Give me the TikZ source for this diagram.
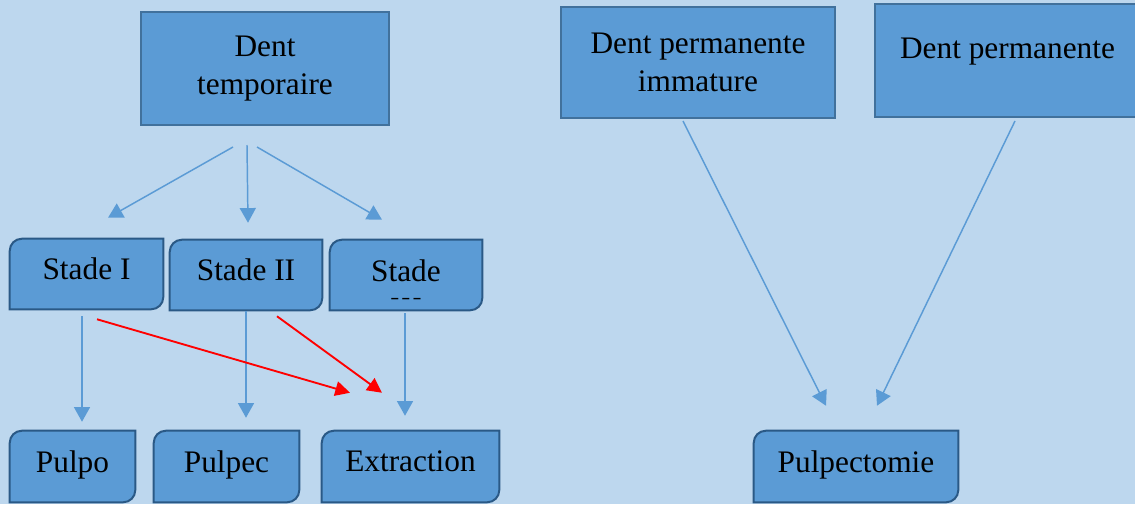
\documentclass[tikz,border=0pt]{standalone}
\usepackage{fontspec}
\setmainfont{Liberation Serif}
\usetikzlibrary{calc,arrows.meta,backgrounds}
\definecolor{pagebg}{HTML}{BDD7EE}
\definecolor{boxfill}{HTML}{5B9BD5}
\definecolor{rectedge}{HTML}{41719C}
\definecolor{roundedge}{HTML}{2A5986}
\definecolor{arrblue}{HTML}{5B9BD5}
\newcommand\longdash{\scalebox{1.45}[1]{-}}
\tikzset{
  dentbox/.style={draw=rectedge, fill=boxfill, line width=1.5pt, align=center,
    inner sep=0pt, font=\fontsize{23.5}{28}\selectfont},
  stadebox/.style={inner sep=0pt, align=center, text depth=8pt, font=\fontsize{23.5}{28}\selectfont},
  arr/.style={draw=arrblue, line width=1.1pt, -{Triangle[width=12pt,length=11pt]}},
  redarr/.style={draw=red, line width=1.4pt, -{Triangle[width=11pt,length=11pt]}}
}
\begin{document}
\begin{tikzpicture}[x=0.75pt, y=-0.75pt]
\useasboundingbox (0,0) rectangle (1135,504);
% top boxes
\node[dentbox, minimum width=248*0.75pt, minimum height=113*0.75pt] (temp) at (265,68.5) {Dent\\temporaire};
\node[dentbox, minimum width=274*0.75pt, minimum height=111*0.75pt] (immat) at (698,62.5) {Dent permanente\\immature};
\node[dentbox, minimum width=265*0.75pt, minimum height=113*0.75pt, text depth=19pt] (perm) at (1007.5,60.5) {Dent permanente};
% stades
\node[stadebox, minimum width=153*0.75pt, minimum height=70*0.75pt] (s1) at (86.5,274) {Stade I};
\node[stadebox, minimum width=152*0.75pt, minimum height=70*0.75pt] (s2) at (246,275) {Stade II};
\node[stadebox, minimum width=152*0.75pt, minimum height=70*0.75pt] (s3) at (406,275) {};
\node[stadebox, text depth=] (s3text) at (406,282) {Stade\\[-11.5pt]{\fontsize{14}{14}\selectfont\longdash\kern1.5pt\longdash\kern1.5pt\longdash}};
% traitements
\node[stadebox, minimum width=125*0.75pt, minimum height=71*0.75pt] (pulpo) at (72.5,466.5) {Pulpo};
\node[stadebox, minimum width=145*0.75pt, minimum height=71*0.75pt] (pulpec) at (226.5,466.5) {Pulpec};
\node[stadebox, minimum width=177*0.75pt, minimum height=71*0.75pt] (extr) at (410.5,466.5) {Extraction};
\node[stadebox, minimum width=204*0.75pt, minimum height=71*0.75pt] (pulpect) at (856,466.5) {Pulpectomie};

\begin{scope}[on background layer]
  \fill[pagebg] (0,0) rectangle (1135,504);
  \foreach \n in {s1,s2,s3,pulpo,pulpec,extr,pulpect}
    \filldraw[fill=boxfill, draw=roundedge, line width=1.5pt]
      (\n.south west) -- ($(\n.north west)+(0,12)$) arc[start angle=180, end angle=90, radius=12*0.75pt]
      -- (\n.north east) -- ($(\n.south east)+(0,-12)$) arc[start angle=0, end angle=-90, radius=12*0.75pt] -- cycle;
\end{scope}

% connectors
\draw[arr] ($(temp.south)+(-32,21)$) -- ($(s1.north)+(21.5,-21)$);
\draw[arr] ($(temp.south)+(-18,19)$) -- ($(s2.north)+(2,-17)$);
\draw[arr] ($(temp.south)+(-8,21)$) -- ($(s3.north)+(-24,-20)$);
\draw[arr] ($(s1.south)+(-4.5,7)$) -- ($(pulpo.north)+(9.5,-9)$);
\draw[arr] ($(s2.south)+(0,1)$) -- ($(pulpec.north)+(19.5,-13)$);
\draw[arr] ($(s3.south)+(-1,3)$) -- ($(extr.north)+(-5.5,-15)$);
\draw[redarr] ($(s1.south)+(10.5,10)$) -- ($(extr.north)+(-60.5,-38)$);
\draw[redarr] ($(s2.south)+(31,6)$) -- ($(extr.north)+(-28.5,-38)$);
\draw[arr] ($(immat.south)+(-15,2)$) -- ($(pulpect.north)+(-30,-25)$);
\draw[arr] ($(perm.south)+(7.5,3)$) -- ($(pulpect.north)+(21,-25)$);
\end{tikzpicture}
\end{document}
